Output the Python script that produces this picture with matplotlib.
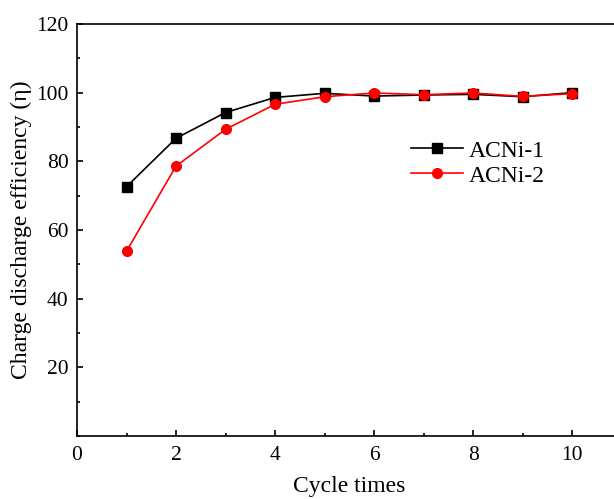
import numpy as np
import matplotlib
matplotlib.use("Agg")
import matplotlib.pyplot as plt
from matplotlib.ticker import MultipleLocator

plt.rcParams['font.family'] = ['Liberation Serif', 'DejaVu Serif']

# cycle number vs. charge/discharge efficiency
cycles = [1, 2, 3, 4, 5, 6, 7, 8, 9, 10]
acni1 = [72.6, 86.7, 94.2, 98.6, 99.8, 99.0, 99.3, 99.5, 98.8, 100.0]
acni2 = [53.8, 78.6, 89.3, 96.6, 98.8, 99.9, 99.4, 99.9, 98.9, 99.7]

fig = plt.figure(figsize=(6.14, 4.99), dpi=100)
ax = fig.add_axes([0.1254, 0.1263, 0.887, 0.8257])

ax.plot(cycles, acni1, color='black', lw=1.2, marker='s', ms=6.5, label='ACNi-1')
ax.plot(cycles, acni2, color='red', lw=1.2, marker='o', ms=7, label='ACNi-2')

ax.set_xlim(0, 11)
ax.set_ylim(0, 120)
ax.xaxis.set_minor_locator(MultipleLocator(1))
ax.yaxis.set_minor_locator(MultipleLocator(10))
ax.set_yticks([20, 40, 60, 80, 100, 120])
ax.set_xticks([0, 2, 4, 6, 8, 10])

ax.spines['right'].set_visible(False)
for s in ax.spines.values():
    s.set_linewidth(1.2)
ax.tick_params(which='both', direction='in', labelsize=15.5, width=1.2, top=False, right=False)
ax.tick_params(which='major', length=4.5)
ax.tick_params(which='minor', length=2.5)
ax.tick_params(axis='x', pad=7)
ax.tick_params(axis='y', pad=6)

ax.set_xlabel('Cycle times', fontsize=17, labelpad=8)
ax.set_ylabel('Charge discharge efficiency (η)', fontsize=17, labelpad=3)

ax.legend(loc='upper left', bbox_to_anchor=(0.614, 0.718), frameon=False,
          fontsize=17, handlelength=2.2, handletextpad=0.25, labelspacing=0.15,
          borderpad=0, borderaxespad=0)

fig.savefig('out.png', dpi=100)
